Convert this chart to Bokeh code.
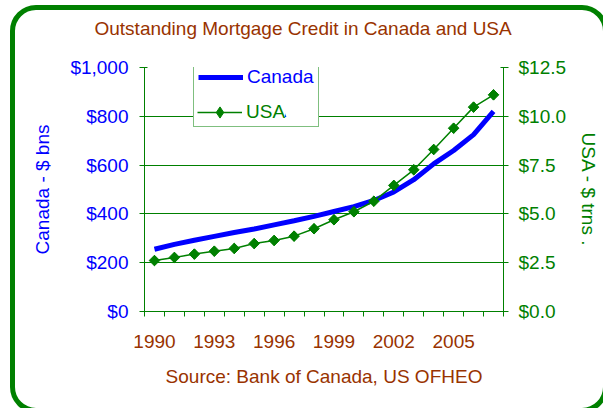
from bokeh.plotting import figure
from bokeh.models import (Range1d, LinearAxis, FixedTicker, NumeralTickFormatter,
                          Legend, LegendItem, Title, Label, InlineStyleSheet)
from bokeh.embed import file_html
from bokeh.resources import INLINE

years = list(range(1990, 2008))
canada = [255, 275, 292, 308, 324, 338, 355, 372, 390, 410, 430, 455, 490, 540, 605, 660, 725, 820]
usa = [2.61, 2.77, 2.94, 3.09, 3.23, 3.48, 3.64, 3.86, 4.24, 4.70, 5.11, 5.65,
       6.46, 7.26, 8.30, 9.39, 10.47, 11.10]
year_ticks = [1990, 1993, 1996, 1999, 2002, 2005]
left_ticks = [0, 200, 400, 600, 800, 1000]
right_ticks = [0, 2.5, 5, 7.5, 10, 12.5]

TITLE = "Outstanding Mortgage Credit in Canada and USA"
SOURCE = "Source: Bank of Canada, US OFHEO"
LEFT_LABEL = "Canada - $ bns"
RIGHT_LABEL = "USA - $ trns ."

GREEN = "#008000"
BLUE = "#0000FF"
BROWN = "#993300"
FONT = "Liberation Sans"
FS = "19px"

p = figure(width=603, height=408, output_backend="svg", toolbar_location=None,
           title=None,
           x_range=Range1d(years[0] - 0.5, years[-1] + 0.5),
           y_range=Range1d(0, 1000),
           min_border_left=144, min_border_right=100,
           min_border_top=67, min_border_bottom=97)
p.extra_y_ranges = {"usa": Range1d(0, 12.5)}
p.outline_line_color = None
p.background_fill_color = "white"
p.border_fill_alpha = 0
frame_css = InlineStyleSheet(css="""
:host { position: relative; }
:host::before {
  content: "";
  position: absolute;
  left: 10px; top: 5px; width: 598px; height: 408px;
  box-sizing: border-box;
  border: 5px solid #008000;
  border-radius: 26px;
  pointer-events: none;
}
""")
p.stylesheets = [frame_css]

# chart title, placed in canvas pixels in the top margin
p.add_layout(Label(x=94, y=28, x_units="canvas", y_units="canvas", text=TITLE,
                   text_align="left", text_baseline="middle", text_color=BROWN,
                   text_font=FONT, text_font_size=FS), "above")

# grid
p.xgrid.visible = False
p.ygrid.ticker = FixedTicker(ticks=left_ticks)
p.ygrid.grid_line_color = GREEN
p.ygrid.grid_line_width = 1

# x axis
xa = p.xaxis[0]
xa.ticker = FixedTicker(ticks=year_ticks,
                        minor_ticks=[y - 0.5 for y in years] + [years[-1] + 0.5])
xa.axis_line_color = GREEN
xa.major_tick_out = 0
xa.major_tick_in = 0
xa.minor_tick_out = 5
xa.minor_tick_in = 0
xa.minor_tick_line_color = GREEN
xa.major_label_standoff = 18
xa.major_label_text_color = BROWN
xa.major_label_text_font = FONT
xa.major_label_text_font_size = FS

src = Title(text=SOURCE, align="center", standoff=27, text_color=BROWN,
            text_font=FONT, text_font_size=FS, text_font_style="normal")
p.add_layout(src, "below")

# left axis
ya = p.yaxis[0]
ya.ticker = FixedTicker(ticks=left_ticks)
ya.formatter = NumeralTickFormatter(format="$0,0")
ya.axis_line_color = GREEN
ya.major_tick_line_color = GREEN
ya.major_tick_out = 5
ya.major_tick_in = 3
ya.minor_tick_line_color = None
ya.major_label_standoff = 11
ya.major_label_text_color = BLUE
ya.major_label_text_font = FONT
ya.major_label_text_font_size = FS
ya.axis_label = LEFT_LABEL
ya.axis_label_text_color = BLUE
ya.axis_label_text_font = FONT
ya.axis_label_text_font_size = FS
ya.axis_label_text_font_style = "normal"
ya.axis_label_standoff = 14

# right axis
ra = LinearAxis(y_range_name="usa", ticker=FixedTicker(ticks=right_ticks),
                formatter=NumeralTickFormatter(format="$0.0"))
ra.axis_line_color = GREEN
ra.major_tick_line_color = GREEN
ra.major_tick_out = 5
ra.major_tick_in = 3
ra.minor_tick_line_color = None
ra.major_label_standoff = 10
ra.major_label_text_color = GREEN
ra.major_label_text_font = FONT
ra.major_label_text_font_size = FS
ra.axis_label = RIGHT_LABEL
ra.axis_label_text_color = GREEN
ra.axis_label_text_font = FONT
ra.axis_label_text_font_size = FS
ra.axis_label_text_font_style = "normal"
ra.axis_label_standoff = 9
p.add_layout(ra, "right")

# data
can_line = p.line(years, canada, line_color=BLUE, line_width=5)
usa_line = p.line(years, usa, line_color=GREEN, line_width=1.5, y_range_name="usa")
# diamond glyph (hidden under the rotated squares) that supplies the legend swatch
usa_key = p.scatter(years, usa, marker="diamond", size=10, fill_color=GREEN,
                    line_color=GREEN, y_range_name="usa")
usa_pts = p.scatter(years, usa, marker="square", angle=0.785398, size=7.5,
                    fill_color=GREEN, line_color=GREEN, y_range_name="usa")

common = dict(label_text_font=FONT, label_text_font_size=FS,
              glyph_width=45, label_standoff=4, margin=0)
leg = Legend(items=[LegendItem(label="Canada", renderers=[can_line]),
                    LegendItem(label="USA", renderers=[usa_line])],
             location=(49, 184), padding=4, spacing=12,
             glyph_height=22, label_height=22,
             label_text_color=BLUE, border_line_color=GREEN, border_line_width=1,
             background_fill_color="white", background_fill_alpha=1, **common)
p.add_layout(leg)
leg2 = Legend(items=[LegendItem(label="USA", renderers=[usa_line, usa_key])],
              location=(53, 185), padding=0, spacing=0,
              glyph_height=28, label_height=28,
              label_text_color=GREEN, border_line_alpha=0,
              background_fill_color="white", background_fill_alpha=1, **common)
p.add_layout(leg2)

open("out.html", "w").write(file_html(p, INLINE))
